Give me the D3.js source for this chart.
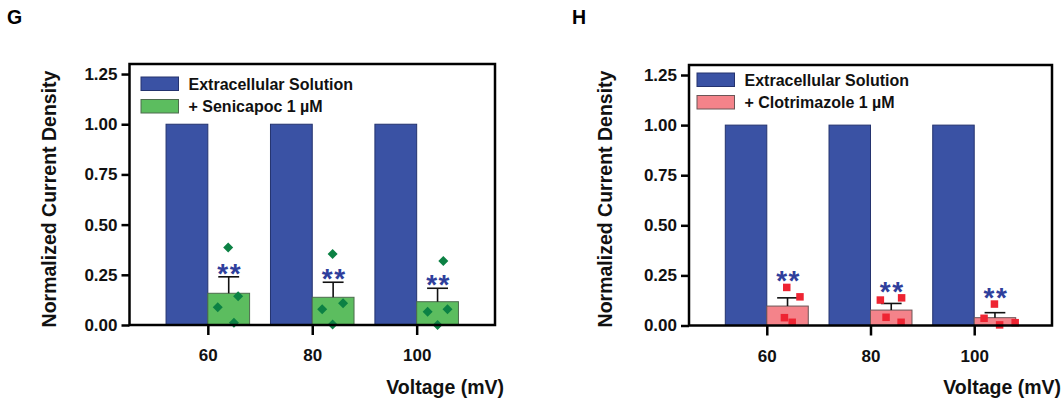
<!DOCTYPE html>
<html>
<head>
<meta charset="utf-8">
<script src="https://cdn.jsdelivr.net/npm/d3@7/dist/d3.min.js"></script>
<style>
  html, body { margin: 0; padding: 0; background: #fff; }
  svg { display: block; font-family: "Liberation Sans", Arial, sans-serif; font-weight: bold; }
</style>
</head>
<body>
<svg id="chart" width="1063" height="402"></svg>
<script>
// ---- data ----
const voltages = [60, 80, 100];
const yTicks = [0, 0.25, 0.5, 0.75, 1.0, 1.25];

// control (extracellular solution) normalised to 1
const controlMean = [1, 1, 1];

// panel G: + Senicapoc 1 µM
const senicapocMean = [0.158, 0.138, 0.116];
const senicapocSEM = [0.082, 0.075, 0.067];
const senicapocPoints = [
  [0.386, 0.143, 0.088, 0.011],
  [0.354, 0.108, 0.078, 0.003],
  [0.319, 0.078, 0.066, 0.0]
];
// horizontal jitter of the individual cells, in mV units around the bar centre
const senicapocJitter = [
  [-0.1, 1.8, -2.1, 1.0],
  [-0.1, 1.9, -2.1, -0.1],
  [1.1, 1.9, -1.9, 0.0]
];

// panel H: + Clotrimazole 1 µM
const clotrimazoleMean = [0.097, 0.077, 0.039];
const clotrimazoleSEM = [0.041, 0.033, 0.025];
const clotrimazolePoints = [
  [0.19, 0.143, 0.039, 0.016],
  [0.127, 0.138, 0.041, 0.016],
  [0.107, 0.036, 0.003, 0.014]
];
const clotrimazoleJitter = [
  [-0.15, 2.4, -0.6, 0.9],
  [-2.1, 2.0, -1.0, 1.9],
  [-0.1, -2.1, 0.9, 3.9]
];

const sigLabels = ["**", "**", "**"];

// ---- drawing ----
const svg = d3.select("#chart");
const FONT = '"Liberation Sans", Arial, sans-serif';

const panels = [
  {
    letter: "G", letterX: 7,
    left: 129.5, right: 495, top: 64, bottom: 325,
    legendX: 141, legendY: 77,
    treatName: "+ Senicapoc 1 µM",
    mean: senicapocMean, sem: senicapocSEM, points: senicapocPoints, jitter: senicapocJitter,
    treatFill: "#5cbd5f", treatStroke: "#4d6b4e",
    marker: "diamond", markerFill: "#0c8144",
    sigAbove: "error", titleX: 56
  },
  {
    letter: "H", letterX: 572,
    left: 689, right: 1052, top: 65, bottom: 325.5,
    legendX: 697, legendY: 73,
    treatName: "+ Clotrimazole 1 µM",
    mean: clotrimazoleMean, sem: clotrimazoleSEM, points: clotrimazolePoints, jitter: clotrimazoleJitter,
    treatFill: "#f4838a", treatStroke: "#6b5556",
    marker: "square", markerFill: "#ee2432",
    sigAbove: "points", titleX: 611.5
  }
];

const controlFill = "#3a52a4";
const controlStroke = "#24336f";
const sigColor = "#2f3f9c";
const barW = 8;      // mV units
const capHalf = 2;   // mV units

panels.forEach(p => {
  const x = d3.scaleLinear().domain([45, 115]).range([p.left, p.right]);
  const y = d3.scaleLinear().domain([0, 1.30]).range([p.bottom, p.top]);
  const g = svg.append("g");

  // panel letter
  svg.append("text").attr("x", p.letterX).attr("y", 23.5)
    .attr("font-size", 19.5).attr("font-family", FONT).attr("font-weight", "bold")
    .text(p.letter);

  // control bars
  g.selectAll("rect.ctrl").data(voltages).join("rect").attr("class", "ctrl")
    .attr("x", (d) => x(d - barW))
    .attr("width", x(barW) - x(0))
    .attr("y", (d, i) => y(controlMean[i]))
    .attr("height", (d, i) => y(0) - y(controlMean[i]))
    .attr("fill", controlFill).attr("stroke", controlStroke).attr("stroke-width", 1);

  // treated bars
  g.selectAll("rect.treat").data(voltages).join("rect").attr("class", "treat")
    .attr("x", (d) => x(d))
    .attr("width", x(barW) - x(0))
    .attr("y", (d, i) => y(p.mean[i]))
    .attr("height", (d, i) => y(0) - y(p.mean[i]))
    .attr("fill", p.treatFill).attr("stroke", p.treatStroke).attr("stroke-width", 1);

  // error bars (upper half)
  voltages.forEach((v, i) => {
    const cx = v + barW / 2;
    const top = p.mean[i] + p.sem[i];
    g.append("line").attr("x1", x(cx)).attr("x2", x(cx))
      .attr("y1", y(p.mean[i])).attr("y2", y(top))
      .attr("stroke", "#111").attr("stroke-width", 1.6);
    g.append("line").attr("x1", x(cx - capHalf)).attr("x2", x(cx + capHalf))
      .attr("y1", y(top)).attr("y2", y(top))
      .attr("stroke", "#111").attr("stroke-width", 1.6);
  });

  // individual cells
  voltages.forEach((v, i) => {
    const cx = v + barW / 2;
    p.points[i].forEach((val, k) => {
      const px = x(cx + p.jitter[i][k]);
      const py = y(val);
      if (p.marker === "diamond") {
        const r = 5;
        g.append("path")
          .attr("d", `M${px},${py - r}L${px + r},${py}L${px},${py + r}L${px - r},${py}Z`)
          .attr("fill", p.markerFill);
      } else {
        const s = 7.5;
        g.append("rect").attr("x", px - s / 2).attr("y", py - s / 2)
          .attr("width", s).attr("height", s).attr("fill", p.markerFill);
      }
    });
  });

  // significance stars
  voltages.forEach((v, i) => {
    const cx = v + barW / 2;
    let cy;
    if (p.sigAbove === "error") cy = y(p.mean[i] + p.sem[i]) - 10;
    else cy = y(d3.max(p.points[i])) - 13;
    g.append("text").attr("x", x(cx) + 1).attr("y", cy + 16)
      .attr("text-anchor", "middle")
      .attr("font-size", 28).attr("font-family", FONT).attr("font-weight", "bold")
      .attr("letter-spacing", 1.5)
      .attr("fill", sigColor)
      .text(sigLabels[i]);
  });

  // frame
  g.append("rect").attr("x", p.left).attr("y", p.top)
    .attr("width", p.right - p.left).attr("height", p.bottom - p.top)
    .attr("fill", "none").attr("stroke", "#000").attr("stroke-width", 2.5);

  // y axis
  const ya = g.append("g").attr("transform", `translate(${p.left},0)`)
    .call(d3.axisLeft(y).tickValues(yTicks).tickFormat(d3.format(".2f")).tickSize(8).tickPadding(4));
  ya.select(".domain").remove();
  ya.selectAll("line").attr("stroke", "#000").attr("stroke-width", 2.5);
  ya.selectAll("text").attr("font-size", 17).attr("font-family", FONT)
    .attr("font-weight", "bold").attr("fill", "#111");

  // x axis
  const xa = g.append("g").attr("transform", `translate(0,${p.bottom})`)
    .call(d3.axisBottom(x).tickValues(voltages).tickSize(10).tickPadding(14));
  xa.select(".domain").remove();
  xa.selectAll("line").attr("stroke", "#000").attr("stroke-width", 2.5);
  xa.selectAll("text").attr("font-size", 17).attr("font-family", FONT)
    .attr("font-weight", "bold").attr("fill", "#111");

  // axis titles
  g.append("text")
    .attr("transform", `translate(${p.titleX},199) rotate(-90)`)
    .attr("text-anchor", "middle")
    .attr("font-size", 19.5).attr("font-family", FONT).attr("font-weight", "bold")
    .attr("fill", "#111")
    .text("Normalized Current Density");
  g.append("text")
    .attr("x", p.right + 9).attr("y", 393.5)
    .attr("text-anchor", "end")
    .attr("font-size", 19.5).attr("font-family", FONT).attr("font-weight", "bold")
    .attr("fill", "#111")
    .text("Voltage (mV)");

  // legend
  const legend = [
    { name: "Extracellular Solution", fill: controlFill, stroke: controlStroke },
    { name: p.treatName, fill: p.treatFill, stroke: p.treatStroke }
  ];
  legend.forEach((l, k) => {
    const ly = p.legendY + k * 22.5;
    g.append("rect").attr("x", p.legendX).attr("y", ly)
      .attr("width", 37.5).attr("height", 13.5)
      .attr("fill", l.fill).attr("stroke", l.stroke).attr("stroke-width", 1);
    g.append("text").attr("x", p.legendX + 47.5).attr("y", ly + 12.5)
      .attr("font-size", 16).attr("font-family", FONT).attr("font-weight", "bold")
      .attr("fill", "#111")
      .text(l.name);
  });
});
</script>
</body>
</html>
